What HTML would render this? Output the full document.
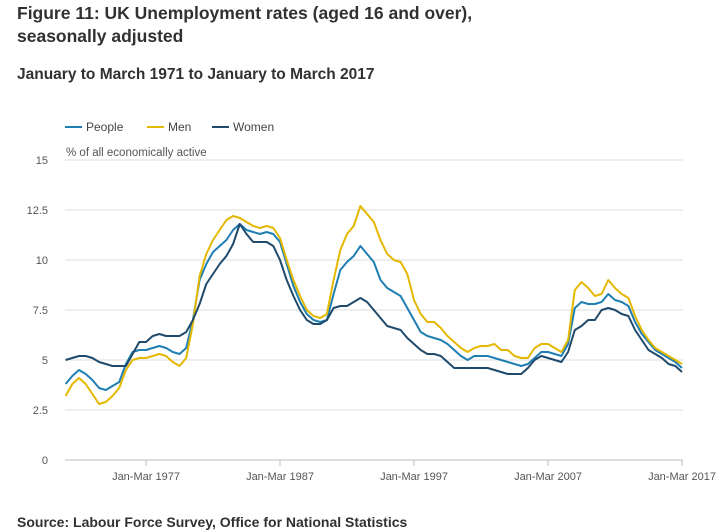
<!DOCTYPE html>
<html><head><meta charset="utf-8"><style>
body{margin:0;background:#fff;width:716px;height:530px;overflow:hidden;font-family:"Liberation Sans",sans-serif;color:#323132}
h1{position:absolute;left:17px;top:2px;margin:0;font-size:17.5px;line-height:23px;font-weight:bold;color:#323132}
h2{position:absolute;left:17px;top:66px;margin:0;font-size:15.5px;font-weight:bold}
.src{position:absolute;left:17px;top:514px;font-size:14px;font-weight:bold}
</style></head><body>
<h1>Figure 11: UK Unemployment rates (aged 16 and over),<br>seasonally adjusted</h1>
<h2>January to March 1971 to January to March 2017</h2>
<svg id="c" width="716" height="530" style="position:absolute;left:0;top:0"></svg>
<div class="src">Source: Labour Force Survey, Office for National Statistics</div>
<script>
const yTicks=[0,2.5,5,7.5,10,12.5,15];
const xTickYears=[1977,1987,1997,2007,2017];
const xTickLabels=["Jan-Mar 1977","Jan-Mar 1987","Jan-Mar 1997","Jan-Mar 2007","Jan-Mar 2017"];
const startYear=1971, step=0.5;
const men=[3.2,3.8,4.1,3.8,3.3,2.8,2.9,3.2,3.6,4.5,5.0,5.1,5.1,5.2,5.3,5.2,4.9,4.7,5.1,6.8,9.2,10.3,11.0,11.5,12.0,12.2,12.1,11.9,11.7,11.6,11.7,11.6,11.1,10.0,9.0,8.2,7.5,7.2,7.1,7.3,9.0,10.5,11.3,11.7,12.7,12.3,11.9,11.0,10.3,10.0,9.9,9.3,8.0,7.3,6.9,6.9,6.6,6.2,5.9,5.6,5.4,5.6,5.7,5.7,5.8,5.5,5.5,5.2,5.1,5.1,5.6,5.8,5.8,5.6,5.4,6.0,8.5,8.9,8.6,8.2,8.3,9.0,8.6,8.3,8.1,7.2,6.5,6.0,5.6,5.4,5.2,5.0,4.8];
const people=[3.8,4.2,4.5,4.3,4.0,3.6,3.5,3.7,3.9,4.8,5.4,5.5,5.5,5.6,5.7,5.6,5.4,5.3,5.6,7.0,9.0,9.8,10.4,10.7,11.0,11.5,11.8,11.5,11.4,11.3,11.4,11.3,10.9,9.8,8.7,7.9,7.3,7.0,6.9,7.0,8.3,9.5,9.9,10.2,10.7,10.3,9.9,9.0,8.6,8.4,8.2,7.6,7.0,6.4,6.2,6.1,6.0,5.8,5.5,5.2,5.0,5.2,5.2,5.2,5.1,5.0,4.9,4.8,4.7,4.8,5.1,5.4,5.4,5.3,5.2,5.8,7.6,7.9,7.8,7.8,7.9,8.3,8.0,7.9,7.7,6.9,6.3,5.9,5.5,5.3,5.1,4.9,4.6];
const women=[5.0,5.1,5.2,5.2,5.1,4.9,4.8,4.7,4.7,4.7,5.3,5.9,5.9,6.2,6.3,6.2,6.2,6.2,6.4,7.0,7.8,8.8,9.3,9.8,10.2,10.8,11.8,11.3,10.9,10.9,10.9,10.7,10.0,9.0,8.2,7.5,7.0,6.8,6.8,7.0,7.6,7.7,7.7,7.9,8.1,7.9,7.5,7.1,6.7,6.6,6.5,6.1,5.8,5.5,5.3,5.3,5.2,4.9,4.6,4.6,4.6,4.6,4.6,4.6,4.5,4.4,4.3,4.3,4.3,4.6,5.0,5.2,5.1,5.0,4.9,5.4,6.5,6.7,7.0,7.0,7.5,7.6,7.5,7.3,7.2,6.5,6.0,5.5,5.3,5.1,4.8,4.7,4.4];
const series=[["people",people,"#206095"],["men",men,"#e5b800"],["women",women,"#1f4e79"]];
series[0][2]="#1f7fb2";series[2][2]="#204a6b";
const X0=65.6,PX=13.4,Y0=460,PY=20,XR=683;
const xs=t=>X0+(t-startYear)*PX, ys=v=>Y0-v*PY;
const svg=document.getElementById('c'),NS="http://www.w3.org/2000/svg";
function mk(tag,a,txt){const e=document.createElementNS(NS,tag);for(const k in a)e.setAttribute(k,a[k]);if(txt!==undefined)e.textContent=txt;svg.appendChild(e);return e;}
yTicks.forEach(v=>{
 const g=mk('line',{x1:65,x2:XR,y1:ys(v),y2:ys(v),stroke:v===0?'#bbb':'#ddd','stroke-width':1});
 
 
 const t=mk('text',{x:48,y:ys(v)+4,'text-anchor':'end','font-size':11,fill:'#555'},String(v));
 
 
});
xTickYears.forEach((yr,i)=>{
 const l=mk('line',{x1:xs(yr),x2:xs(yr),y1:460,y2:466,stroke:'#bbb'});
 
 
 const t=mk('text',{x:xs(yr),y:480,'text-anchor':'middle','font-size':11,fill:'#555'},xTickLabels[i]);
 
 
});
const yt=mk('text',{x:66,y:156,'font-size':11.5,fill:'#555'},'% of all economically active');


series.forEach(([n,d,c])=>{
 const pts=d.map((v,i)=>xs(startYear+i*step).toFixed(1)+','+ys(v).toFixed(1)).join(' ');
 const p=mk('polyline',{points:pts,fill:'none',stroke:c,'stroke-width':2,'stroke-linejoin':'round'});
 
 
});
const leg=[["People",series[0][2],65],["Men",series[1][2],147],["Women",series[2][2],212]];
leg.forEach(([n,c,x])=>{
 const l=mk('line',{x1:x,x2:x+17,y1:127,y2:127,stroke:c,'stroke-width':2});
 
 
 const t=mk('text',{x:x+21,y:131,'font-size':12,fill:'#444'},n);
 
 
});
</script>
</body></html>
